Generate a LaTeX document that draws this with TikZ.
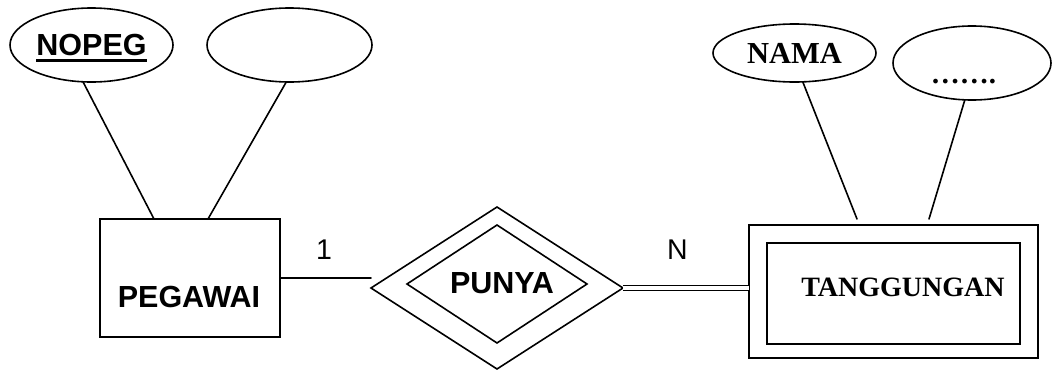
\documentclass[tikz,border=0pt]{standalone}
\usepackage{fontspec}
\setmainfont{Liberation Serif}
\setsansfont{Liberation Sans}
\usetikzlibrary{shapes.geometric}

% key attribute: thick underline below the name
\newcommand{\keyattr}[1]{\setbox0\hbox{#1}\rlap{\smash{\vrule width\wd0 height -3.5pt depth 6.8pt}}\box0}

\begin{document}
\begin{tikzpicture}[
			x=1pt,
			y=-1pt,
			line cap=round,
			every node/.style={inner sep=0pt, outer sep=0pt},
			attr/.style={draw, ellipse, line width=1.6pt},
			entity/.style={draw, rectangle, line width=1.6pt},
			relation/.style={draw, diamond, line width=1.6pt},
			link/.style={line width=1.6pt},
			sanslabel/.style={font=\sffamily\bfseries\fontsize{30.5}{34}\selectfont},
			seriflabel/.style={font=\rmfamily\bfseries\fontsize{#1}{34}\selectfont},
			cardlabel/.style={font=\sffamily\fontsize{28.5}{32}\selectfont}
			]
			\useasboundingbox (0,0) rectangle (1052,370);
			
			% Entity PEGAWAI and its attributes
			\node[entity, minimum width=180pt, minimum height=118pt] (pegawai) at (190,278) {};
			\node[sanslabel] (pegawaitxt) at (189,297) {PEGAWAI};
			\node[attr, minimum width=163pt, minimum height=74pt, sanslabel] (nopeg) at (91.5,45) {\keyattr{NOPEG}};
			\node[attr, minimum width=165pt, minimum height=74pt] (attrkosong) at (289.5,45) {};
			
			\draw[link] (nopeg.257) -- ([xshift=54pt]pegawai.north west);
			\draw[link] (attrkosong.265) -- ([xshift=108pt]pegawai.north west);
			
			% Weak relationship PUNYA
			\node[relation, minimum width=252pt, minimum height=162pt] (punyaout) at (497,288) {};
			\node[relation, minimum width=180pt, minimum height=118pt] (punyain) at (497,284) {};
			\node[sanslabel] (punyatxt) at (502,283) {PUNYA};
			
			% Weak entity TANGGUNGAN and its attributes
			\node[entity, minimum width=289pt, minimum height=133pt] (tanggungan) at (893.5,291.5) {};
			\node[entity, minimum width=253pt, minimum height=101pt] (tanggunganin) at (893.5,293.5) {};
			\node[seriflabel=28] (tanggungantxt) at (903,287) {TANGGUNGAN};
			\node[attr, minimum width=163pt, minimum height=58pt, seriflabel=30.5] (nama) at (794.5,53) {NAMA};
			\node[attr, minimum width=158pt, minimum height=74pt] (attrlain) at (972,63) {};
			\node[seriflabel=29, anchor=base] (attrlaintxt) at (963.5,83) {…….};
			
			\draw[link] (nama.286) -- ([xshift=108pt, yshift=6pt]tanggungan.north west);
			\draw[link] (attrlain.259) -- ([xshift=180pt, yshift=6pt]tanggungan.north west);
			
			% Connections with cardinalities
			\draw[link] (pegawai.east) -- (pegawai.east -| punyaout.west);
			\draw[link, double, double distance=3.4pt, line cap=butt] (punyaout.east) -- (punyaout.east -| tanggungan.west);
			\node[cardlabel] (card1) at (324,250) {1};
			\node[cardlabel] (cardn) at (677.5,250) {N};
		\end{tikzpicture}
\end{document}
